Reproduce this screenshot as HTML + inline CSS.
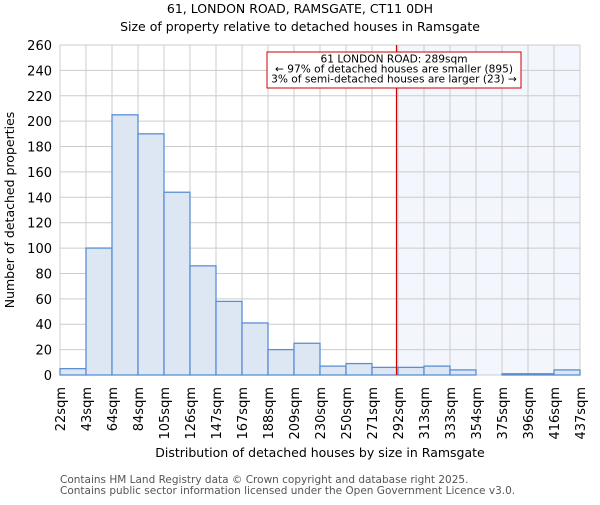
<!DOCTYPE html>
<html><head><meta charset="utf-8"><style>body{margin:0;background:#fff}svg{font-family:"DejaVu Sans","Liberation Sans",sans-serif}</style></head>
<body>
<svg id="chart" width="600" height="500" xmlns="http://www.w3.org/2000/svg">
<text x="300" y="13" text-anchor="middle" font-size="12.5">61, LONDON ROAD, RAMSGATE, CT11 0DH</text>
<text x="300" y="31" text-anchor="middle" font-size="12.5">Size of property relative to detached houses in Ramsgate</text>
<g id="plot"></g>
<text x="320" y="457" text-anchor="middle" font-size="12.5">Distribution of detached houses by size in Ramsgate</text>
<text transform="translate(14,210) rotate(-90)" text-anchor="middle" font-size="12.5">Number of detached properties</text>
<text x="60" y="483" font-size="10.5" fill="#555">Contains HM Land Registry data © Crown copyright and database right 2025.</text>
<text x="60" y="494" font-size="10.5" fill="#555">Contains public sector information licensed under the Open Government Licence v3.0.</text>
</svg>
<script>
const binLabels=["22sqm","43sqm","64sqm","84sqm","105sqm","126sqm","147sqm","167sqm","188sqm","209sqm","230sqm","250sqm","271sqm","292sqm","313sqm","333sqm","354sqm","375sqm","396sqm","416sqm","437sqm"];
const counts=[5,100,205,190,144,86,58,41,20,25,7,9,6,6,7,4,0,1,1,4];
const yTicks=[0,20,40,60,80,100,120,140,160,180,200,220,240,260];
const markerBin=13.0;
const NS="http://www.w3.org/2000/svg";
const L=60,R=580,T=45,B=375,yMax=260;
const n=counts.length,bw=(R-L)/n;
const x=i=>L+i*bw, y=v=>B-v*(B-T)/yMax;
const g=document.getElementById('plot');
function mk(t,a){const e=document.createElementNS(NS,t);for(const k in a)e.setAttribute(k,a[k]);g.appendChild(e);return e;}
const mx=x(markerBin)-1.5;
let e=mk('rect',{x:mx,y:T,width:R-mx,height:B-T,fill:'#f3f6fd'});


for(let i=0;i<=n;i++){e=mk('line',{x1:x(i),x2:x(i),y1:T,y2:B,stroke:'#ccc'});

}
yTicks.forEach(v=>{e=mk('line',{x1:L,x2:R,y1:y(v),y2:y(v),stroke:'#ccc'});


const t=mk('text',{x:L-8,y:y(v)+5,'text-anchor':'end','font-size':'13'});t.textContent=v;

});
counts.forEach((c,i)=>{if(c<=0)return;e=mk('rect',{x:x(i),y:y(c),width:bw,height:B-y(c),fill:'#dde7f4',stroke:'#5b8fd4','stroke-width':1.3});

});
binLabels.forEach((s,i)=>{const t=mk('text',{transform:`translate(${x(i)+5},387) rotate(-90)`,'text-anchor':'end','font-size':'13'});t.textContent=s;

});
e=mk('line',{x1:mx,x2:mx,y1:T,y2:B,stroke:'#c00','stroke-width':1.2});


e=mk('rect',{x:267,y:52,width:254,height:36,fill:'#fff',stroke:'#c00'});


["61 LONDON ROAD: 289sqm","← 97% of detached houses are smaller (895)","3% of semi-detached houses are larger (23) →"].forEach((s,k)=>{const t=mk('text',{x:394,y:62.5+k*10,'text-anchor':'middle','font-size':'10.6'});t.textContent=s;

});
</script>
</body></html>
